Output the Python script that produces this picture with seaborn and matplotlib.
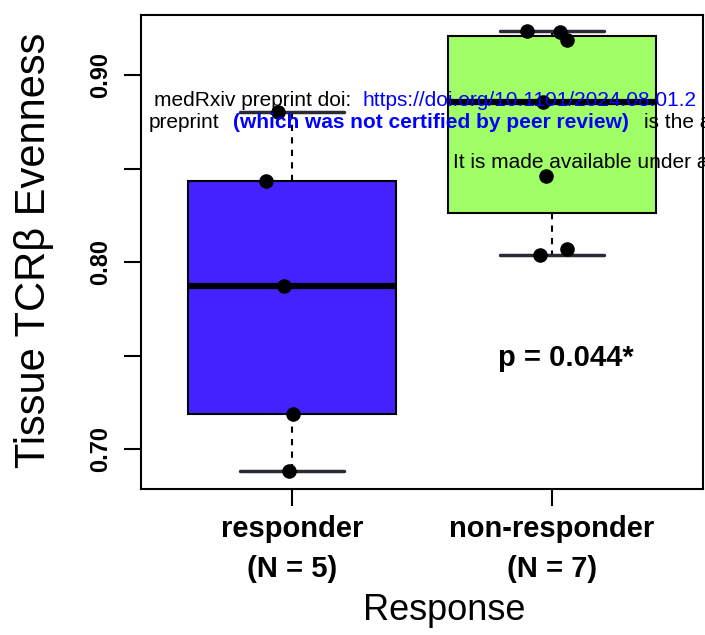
import matplotlib
matplotlib.use('Agg')
import matplotlib.pyplot as plt
import seaborn as sns
import pandas as pd

groups = ['responder', 'non-responder']
group_n = [5, 7]
responder_vals = [0.880, 0.8434, 0.7873, 0.7189, 0.6884]
nonresponder_vals = [0.9235, 0.9228, 0.9187, 0.8856, 0.846, 0.8038, 0.807]
# sideways jitter of each point (category units)
responder_jitter = [-0.054, -0.100, -0.029, 0.006, -0.011]
nonresponder_jitter = [-0.096, 0.031, 0.057, -0.034, -0.023, -0.046, 0.057]
box_colors = ['#4422FF', '#A0FF66']
ytick_vals = [0.70, 0.75, 0.80, 0.85, 0.90]
ytick_labels = ['0.70', '', '0.80', '', '0.90']
p_label = 'p = 0.044*'

df = pd.DataFrame({
    'group': [groups[0]] * len(responder_vals) + [groups[1]] * len(nonresponder_vals),
    'value': responder_vals + nonresponder_vals,
    'jitter': responder_jitter + nonresponder_jitter,
})
df['xpos'] = df['group'].map({g: i for i, g in enumerate(groups)}) + df['jitter']

sns.set_style('white')
plt.rcParams['font.family'] = ['Liberation Sans', 'DejaVu Sans']
plt.rcParams['text.color'] = 'black'
plt.rcParams['axes.labelcolor'] = 'black'
plt.rcParams['xtick.color'] = 'black'
plt.rcParams['ytick.color'] = 'black'

fig = plt.figure(figsize=(7.05, 6.35), dpi=100)
ax = fig.add_axes([141/705, (635-489)/635, (703-141)/705, (489-15)/635])

sns.boxplot(data=df, x='group', y='value', hue='group', order=groups, hue_order=groups,
            palette=box_colors, saturation=1, width=0.8, whis=1.5, showfliers=False,
            linecolor='black', linewidth=1.5, legend=False, ax=ax,
            medianprops=dict(linewidth=4.5, color='black'),
            whiskerprops=dict(linestyle=(0, (3, 3)), linewidth=1.5),
            capprops=dict(linewidth=2.5, color='#2a2a35'))
sns.scatterplot(data=df, x='xpos', y='value', color='black', s=110, edgecolor='black',
                linewidth=0, zorder=4, legend=False, ax=ax)

ax.set_xlim(-0.58, 1.58)
ax.set_ylim(0.6788, 0.932)
ax.set_xticks(range(len(groups)))
ax.set_xticklabels([f'{g}\n(N = {n})' for g, n in zip(groups, group_n)],
                   fontsize=21, fontweight='bold', linespacing=1.55)
ax.set_yticks(ytick_vals)
ax.set_yticklabels(ytick_labels, fontsize=17, fontweight='bold', rotation=90, va='center')
ax.tick_params(axis='both', direction='out', length=12, width=1.5, color='black',
               left=True, bottom=True)
ax.tick_params(axis='y', pad=9)
ax.tick_params(axis='x', pad=7)
for sp in ax.spines.values():
    sp.set_visible(True)
    sp.set_color('black')
    sp.set_linewidth(1.5)

ax.set_xlabel('Response', fontsize=26, va='center')
ax.xaxis.set_label_coords((444-141)/562, (489-610)/474)
ax.set_ylabel('Tissue TCRβ Evenness', fontsize=30, va='center')
ax.yaxis.set_label_coords((34-141)/562, (489-250)/474)

ax.text((566-141)/562, (489-358)/474, p_label, transform=ax.transAxes,
        fontsize=21, fontweight='bold', ha='center', va='center')

# medRxiv watermark lines
fig.text(154/705, 1-100/635, 'medRxiv preprint doi:', fontsize=15, va='center')
fig.text(362/705, 1-100/635, 'https://doi.org/10.1101/2024.08.01.2', fontsize=15,
         va='center', color='#0000FF')
fig.text(149/705, 1-122/635, 'preprint', fontsize=15, va='center')
fig.text(233/705, 1-122/635, '(which was not certified by peer review)', fontsize=15,
         fontweight='bold', va='center', color='#0000FF')
fig.text(644/705, 1-122/635, 'is the a', fontsize=15, va='center')
fig.text(453/705, 1-163/635, 'It is made available under a', fontsize=15, va='center')

fig.savefig('out.png', dpi=100)
